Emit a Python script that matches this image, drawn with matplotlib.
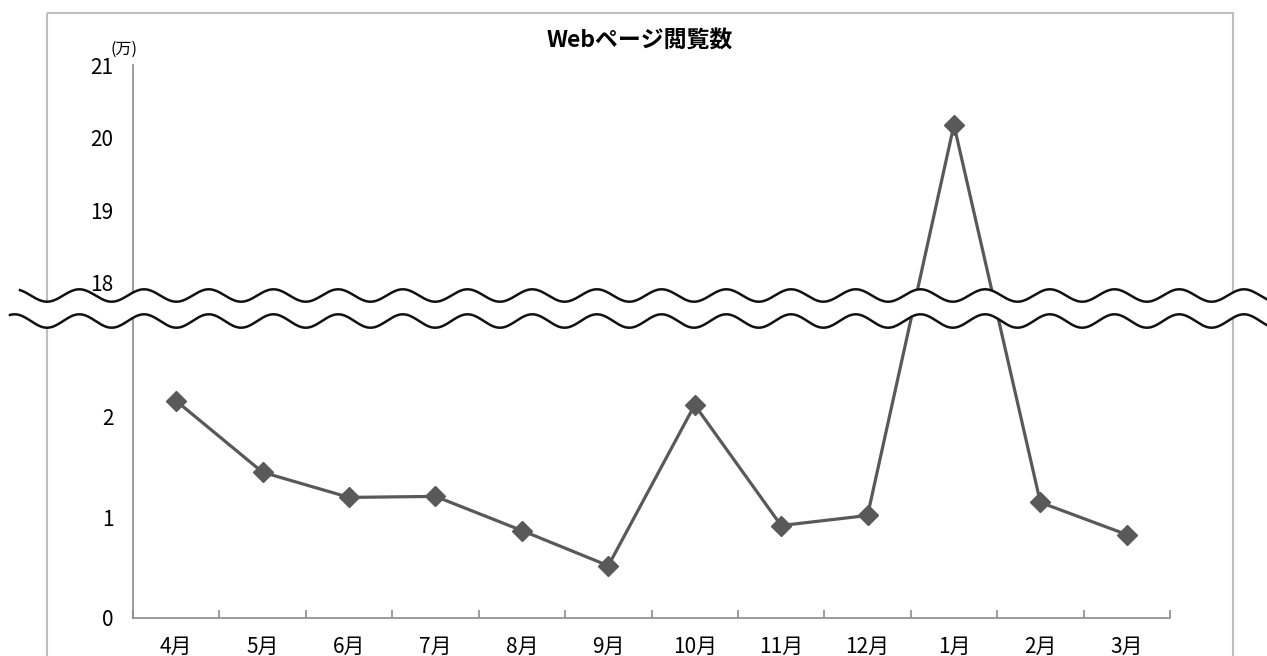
import numpy as np
import matplotlib
matplotlib.use("Agg")
import matplotlib.pyplot as plt
from matplotlib.patches import Rectangle
from matplotlib.ticker import FixedLocator, NullLocator

plt.rcParams['font.family'] = ['Noto Sans CJK JP', 'DejaVu Sans']

# Monthly page views (unit: 10,000)
months = ["4月", "5月", "6月", "7月", "8月", "9月", "10月", "11月", "12月", "1月", "2月", "3月"]
views = [2.16, 1.45, 1.20, 1.21, 0.87, 0.52, 2.12, 0.92, 1.02, 20.18, 1.15, 0.83]
ytick_values = [0, 1, 2, 18, 19, 20, 21]
title = "Webページ閲覧数"
unit_label = "(万)"

W, H = 1267, 656
fig = plt.figure(figsize=(W / 100, H / 100), dpi=100)

# plot area in pixel terms
left, right, top, bottom = 133, 1170, 65.5, 618
ax = fig.add_axes([left / W, 1 - bottom / H, (right - left) / W, (bottom - top) / H])

# broken value axis: 0-3 on a tall scale, 18-21 on a compressed scale
knots_v = np.array([0.0, 3.0, 18.0, 21.0])
knots_p = np.array([0.0, 301.5, 335.0, 552.5])


def fwd(v):
    v = np.asarray(v, dtype=float)
    out = np.interp(v, knots_v, knots_p)
    out = np.where(v < 0, v * 100.5, out)
    out = np.where(v > 21, 552.5 + (v - 21) * 72.5, out)
    return out


def inv(p):
    p = np.asarray(p, dtype=float)
    out = np.interp(p, knots_p, knots_v)
    out = np.where(p < 0, p / 100.5, out)
    out = np.where(p > 552.5, 21 + (p - 552.5) / 72.5, out)
    return out


ax.set_yscale('function', functions=(fwd, inv))
ax.set_ylim(0, 21)
ax.set_xlim(-0.5, len(months) - 0.5)

x = np.arange(len(months))
ax.plot(x, views, color='#595959', lw=2.3, marker='D', ms=10,
        markerfacecolor='#595959', markeredgecolor='#595959', zorder=3,
        clip_on=False)

# axes styling
for s in ['top', 'right']:
    ax.spines[s].set_visible(False)
for s in ['left', 'bottom']:
    ax.spines[s].set_color('#8c8c8c')
    ax.spines[s].set_linewidth(1.2)

ax.yaxis.set_major_locator(FixedLocator(ytick_values))
ax.yaxis.set_minor_locator(NullLocator())
ax.set_yticklabels([str(v) for v in ytick_values])
ax.tick_params(axis='y', length=0, pad=14, labelsize=15, labelcolor='#000000')

ax.set_xticks(x)
ax.set_xticklabels(months)
ax.set_xticks(np.arange(len(months) + 1) - 0.5, minor=True)
ax.tick_params(axis='x', which='major', length=0, pad=13, labelsize=15,
               labelcolor='#000000')
ax.tick_params(axis='x', which='minor', direction='in', length=6,
               color='#8c8c8c', width=1.2)

fig.text(640 / W, 1 - 41 / H, title, ha='center', va='center',
         fontsize=16.5, fontweight='bold')
fig.text(124 / W, 1 - 49 / H, unit_label, ha='center', va='center', fontsize=11.5)

# overlay in pixel coordinates for the chart frame and the break marks
ov = fig.add_axes([0, 0, 1, 1], zorder=10)
ov.set_xlim(0, W)
ov.set_ylim(H, 0)
ov.axis('off')
ov.patch.set_visible(False)

ov.add_patch(Rectangle((47, 13), 1233 - 47, 700, fill=False,
                       edgecolor='#bfbfbf', lw=1.5, zorder=1))

period = 64.7
xs_up = np.linspace(20, W, 800)
xs_lo = np.linspace(10, W, 800)
up = 295.5 + 6.2 * np.cos(2 * np.pi * (xs_up - 47) / period)
lo = 321.0 + 6.7 * np.cos(2 * np.pi * (xs_lo - 47) / period)
lo_on_up = 321.0 + 6.7 * np.cos(2 * np.pi * (xs_up - 47) / period)
ov.fill_between(xs_up, up, lo_on_up, color='white', lw=0, zorder=2)
ov.plot(xs_up, up, color='#111111', lw=1.8, zorder=3)
ov.plot(xs_lo, lo, color='#111111', lw=1.8, zorder=3)

fig.savefig("out.png", dpi=100)
